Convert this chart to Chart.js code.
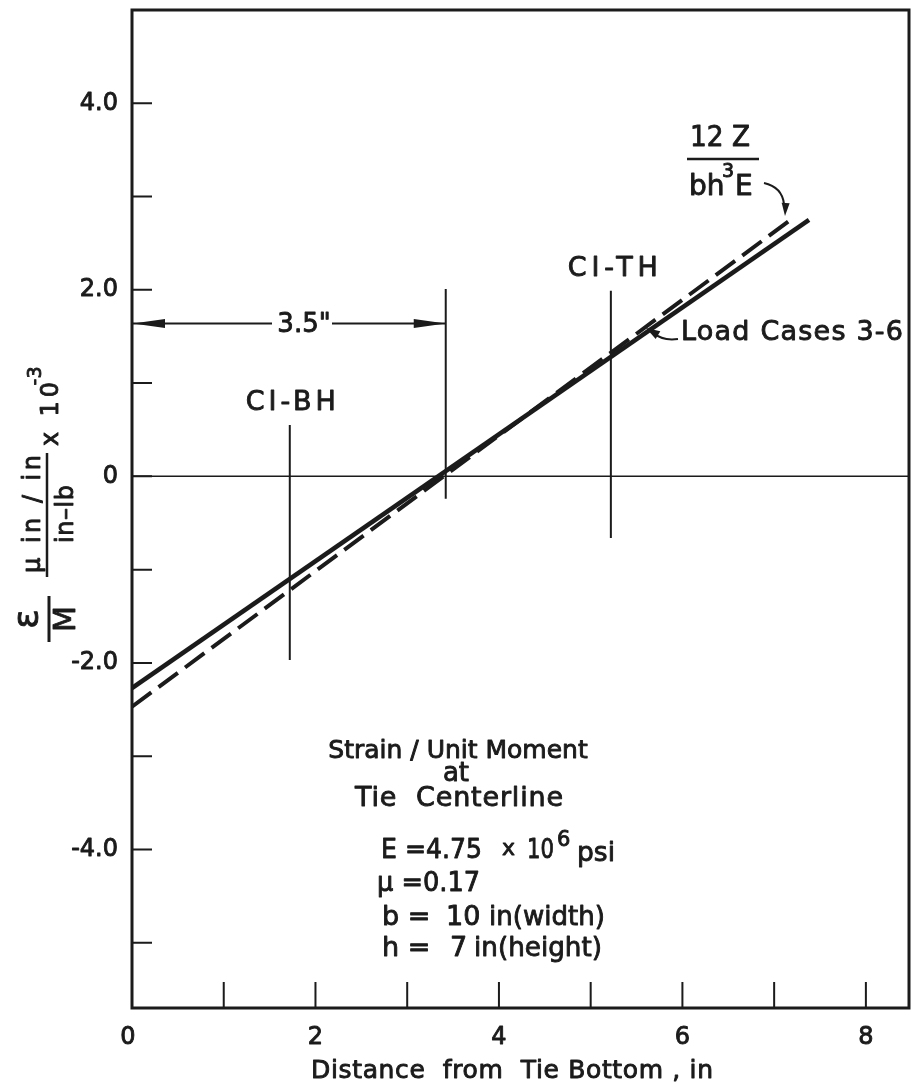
<!DOCTYPE html>
<html>
<head>
<meta charset="utf-8">
<title>Strain / Unit Moment at Tie Centerline</title>
<script src="https://cdn.jsdelivr.net/npm/chart.js@4.4.1/dist/chart.umd.min.js"></script>
<style>
  html, body { margin: 0; padding: 0; background: #fff; }
  canvas { display: block; }
</style>
</head>
<body>
<canvas id="strainChart" width="918" height="1087"></canvas>
<script>
// distance from tie bottom (in) vs strain per unit moment (x 10^-3)
const loadCaseX = [0, 7.38];
const loadCaseStrain = [-2.27, 2.75];
const theoryX = [0, 7.22];
const theoryStrain = [-2.47, 2.78];

// vertical reference lines (gauges and the 3.5" centre line)
const markerLabels = ['CI-BH', '3.5"', 'CI-TH'];
const markerX = [1.72, 3.42, 5.22];
const markerTop = [0.55, 2.01, 1.99];
const markerBottom = [-1.97, -0.24, -0.66];
const dimensionY = 1.64;

const xTicks = [0, 1, 2, 3, 4, 5, 6, 7, 8];
const xTickLabels = ['0', '', '2', '', '4', '', '6', '', '8'];
const yTicks = [-5, -4, -3, -2, -1, 0, 1, 2, 3, 4];
const yTickLabels = ['', '-4.0', '', '-2.0', '', '0', '', '2.0', '', '4.0'];

const INK = '#1b1b1b';
const FONT = '"DejaVu Sans", sans-serif';

function toPoints(xs, ys) {
  return xs.map((x, i) => ({ x: x, y: ys[i] }));
}

const datasets = [
  {
    label: 'Load Cases 3-6',
    data: toPoints(loadCaseX, loadCaseStrain),
    borderColor: INK,
    borderWidth: 4.5,
  },
  {
    label: '12Z / bh3E',
    data: toPoints(theoryX, theoryStrain),
    borderColor: INK,
    borderWidth: 4,
    borderDash: [24, 9],
  },
  {
    label: 'zero',
    data: [{ x: 0, y: 0 }, { x: 8.47, y: 0 }],
    borderColor: INK,
    borderWidth: 1.5,
  },
];
markerX.forEach((x, i) => {
  datasets.push({
    label: markerLabels[i],
    data: [{ x: x, y: markerTop[i] }, { x: x, y: markerBottom[i] }],
    borderColor: INK,
    borderWidth: 2,
  });
});

// lettering: fill plus a thin stroke so it looks like pen work
function ink(ctx, text, x, y, size, width) {
  ctx.save();
  ctx.font = size + 'px ' + FONT;
  ctx.lineWidth = 0.9;
  ctx.lineJoin = 'round';
  if (width) {
    const w = ctx.measureText(text).width;
    const align = ctx.textAlign;
    let x0 = align === 'center' ? x - width / 2 : (align === 'right' ? x - width : x);
    ctx.textAlign = 'left';
    if ('letterSpacing' in ctx && text.length > 1 && width > w) {
      ctx.letterSpacing = ((width - w) / (text.length - 1)) + 'px';
      ctx.fillText(text, x0, y);
      ctx.strokeText(text, x0, y);
    } else {
      ctx.translate(x0, y);
      ctx.scale(width / w, 1);
      ctx.fillText(text, 0, 0);
      ctx.strokeText(text, 0, 0);
    }
  } else {
    ctx.fillText(text, x, y);
    ctx.strokeText(text, x, y);
  }
  ctx.restore();
}

function arrowHead(ctx, tipX, tipY, angle, len, half) {
  ctx.save();
  ctx.translate(tipX, tipY);
  ctx.rotate(angle);
  ctx.beginPath();
  ctx.moveTo(0, 0);
  ctx.lineTo(-len, -half);
  ctx.lineTo(-len, half);
  ctx.closePath();
  ctx.fill();
  ctx.restore();
}

const paperPlugin = {
  id: 'paper',
  afterDatasetsDraw(chart) {
    const { ctx, chartArea: a, scales } = chart;
    const xs = scales.x, ys = scales.y;
    ctx.save();
    ctx.strokeStyle = INK;
    ctx.fillStyle = INK;

    // frame
    ctx.lineWidth = 3;
    ctx.strokeRect(a.left, a.top, a.right - a.left, a.bottom - a.top);

    // inward ticks
    ctx.lineWidth = 2;
    ctx.beginPath();
    xTicks.forEach(v => {
      if (v === 0) return;
      const px = xs.getPixelForValue(v);
      ctx.moveTo(px, a.bottom);
      ctx.lineTo(px, a.bottom - 26);
    });
    yTicks.forEach(v => {
      const py = ys.getPixelForValue(v);
      ctx.moveTo(a.left, py);
      ctx.lineTo(a.left + 20, py);
    });
    ctx.stroke();

    // tick labels
    ctx.textBaseline = 'middle';
    ctx.textAlign = 'center';
    xTicks.forEach((v, i) => {
      if (xTickLabels[i]) ink(ctx, xTickLabels[i], xs.getPixelForValue(v) - (v === 0 ? 4 : 0), a.bottom + 30, 24);
    });
    ctx.textAlign = 'right';
    yTicks.forEach((v, i) => {
      if (yTickLabels[i]) ink(ctx, yTickLabels[i], a.left - 14, ys.getPixelForValue(v), 24);
    });

    // x axis title
    ctx.textAlign = 'center';
    ink(ctx, 'Distance  from  Tie Bottom , in', 512, a.bottom + 63, 25, 402);

    // y axis title (rotated, reads bottom to top)
    ctx.save();
    ctx.rotate(-Math.PI / 2);
    ctx.textAlign = 'center';
    const put = (txt, cx, cy, size, width) => ink(ctx, txt, -cy, cx, size, width);
    const bar = (cx, y1, y2, w) => {
      ctx.lineWidth = w;
      ctx.beginPath();
      ctx.moveTo(-y1, cx);
      ctx.lineTo(-y2, cx);
      ctx.stroke();
    };
    put('\u03b5', 29, 619, 36);
    put('M', 67, 619, 30);
    bar(49, 596, 642, 3);
    put('\u03bc in / in', 34, 514, 24, 118);
    put('in\u2013lb', 67, 514, 24, 58);
    bar(47, 453, 577, 2.5);
    put('x 10', 52, 414, 24, 64);
    put('-3', 36, 376, 19);
    ctx.restore();

    // 3.5" dimension
    const dy = ys.getPixelForValue(dimensionY);
    const dx = xs.getPixelForValue(markerX[1]);
    ctx.lineWidth = 2;
    ctx.beginPath();
    ctx.moveTo(a.left, dy);
    ctx.lineTo(a.left + 140, dy);
    ctx.moveTo(a.left + 200, dy);
    ctx.lineTo(dx, dy);
    ctx.stroke();
    arrowHead(ctx, a.left + 1, dy, Math.PI, 32, 4.5);
    arrowHead(ctx, dx, dy, 0, 32, 4.5);
    ctx.textAlign = 'center';
    ink(ctx, markerLabels[1], a.left + 172, dy + 2, 26);

    // gauge labels
    ink(ctx, markerLabels[0], xs.getPixelForValue(markerX[0]) + 1, ys.getPixelForValue(markerTop[0]) - 22, 27, 90);
    ink(ctx, markerLabels[2], xs.getPixelForValue(markerX[2]) + 2, ys.getPixelForValue(markerTop[2]) - 22, 27, 90);

    // note block, centred lines
    ink(ctx, 'Strain / Unit Moment', 458, 751, 25);
    ink(ctx, 'at', 456, 774, 26);
    ink(ctx, 'Tie  Centerline', 459, 799, 27, 208);

    // Load Cases 3-6 callout
    ctx.textAlign = 'left';
    ink(ctx, 'Load Cases 3-6', 681, 333, 27, 222);
    ctx.lineWidth = 2;
    ctx.beginPath();
    ctx.moveTo(678, 339);
    ctx.quadraticCurveTo(662, 341, 654, 333);
    ctx.stroke();
    arrowHead(ctx, 646, 328, Math.atan2(-6, -10), 14, 4.5);

    // 12Z / bh^3 E callout
    ink(ctx, '12 Z', 690, 139, 28, 60);
    ctx.lineWidth = 2.5;
    ctx.beginPath();
    ctx.moveTo(687, 159);
    ctx.lineTo(759, 159);
    ctx.stroke();
    ink(ctx, 'bh', 689, 188, 28);
    ink(ctx, '3', 722, 172, 19);
    ink(ctx, 'E', 735, 188, 28);
    ctx.lineWidth = 2;
    ctx.beginPath();
    ctx.moveTo(764, 183);
    ctx.quadraticCurveTo(782, 187, 784, 204);
    ctx.stroke();
    arrowHead(ctx, 785, 216, Math.PI / 2 + 0.05, 13, 4);

    // material constants
    ink(ctx, 'E =4.75', 381, 851, 27, 101);
    ink(ctx, 'x', 502, 849, 22);
    ink(ctx, '10', 527, 851, 27, 27);
    ink(ctx, '6', 557, 841, 21);
    ink(ctx, 'psi', 577, 854, 27, 38);
    ink(ctx, '\u03bc =0.17', 377, 884, 27, 103);
    ink(ctx, 'b =', 382, 918, 27);
    ink(ctx, '10', 446, 918, 27);
    ink(ctx, 'in(width)', 489, 918, 27, 116);
    ink(ctx, 'h =', 382, 949, 27);
    ink(ctx, '7', 450, 949, 27);
    ink(ctx, 'in(height)', 474, 949, 27, 128);

    ctx.restore();
  }
};

new Chart(document.getElementById('strainChart'), {
  type: 'line',
  data: { datasets: datasets },
  options: {
    responsive: false,
    animation: false,
    devicePixelRatio: 1,
    layout: { padding: { left: 132, right: 9, top: 10, bottom: 79 } },
    elements: { point: { radius: 0 }, line: { tension: 0, borderCapStyle: 'butt' } },
    plugins: { legend: { display: false }, tooltip: { enabled: false } },
    scales: {
      x: { type: 'linear', min: 0, max: 8.47, display: false },
      y: { type: 'linear', min: -5.7, max: 5, display: false },
    },
  },
  plugins: [paperPlugin],
});
</script>
</body>
</html>
